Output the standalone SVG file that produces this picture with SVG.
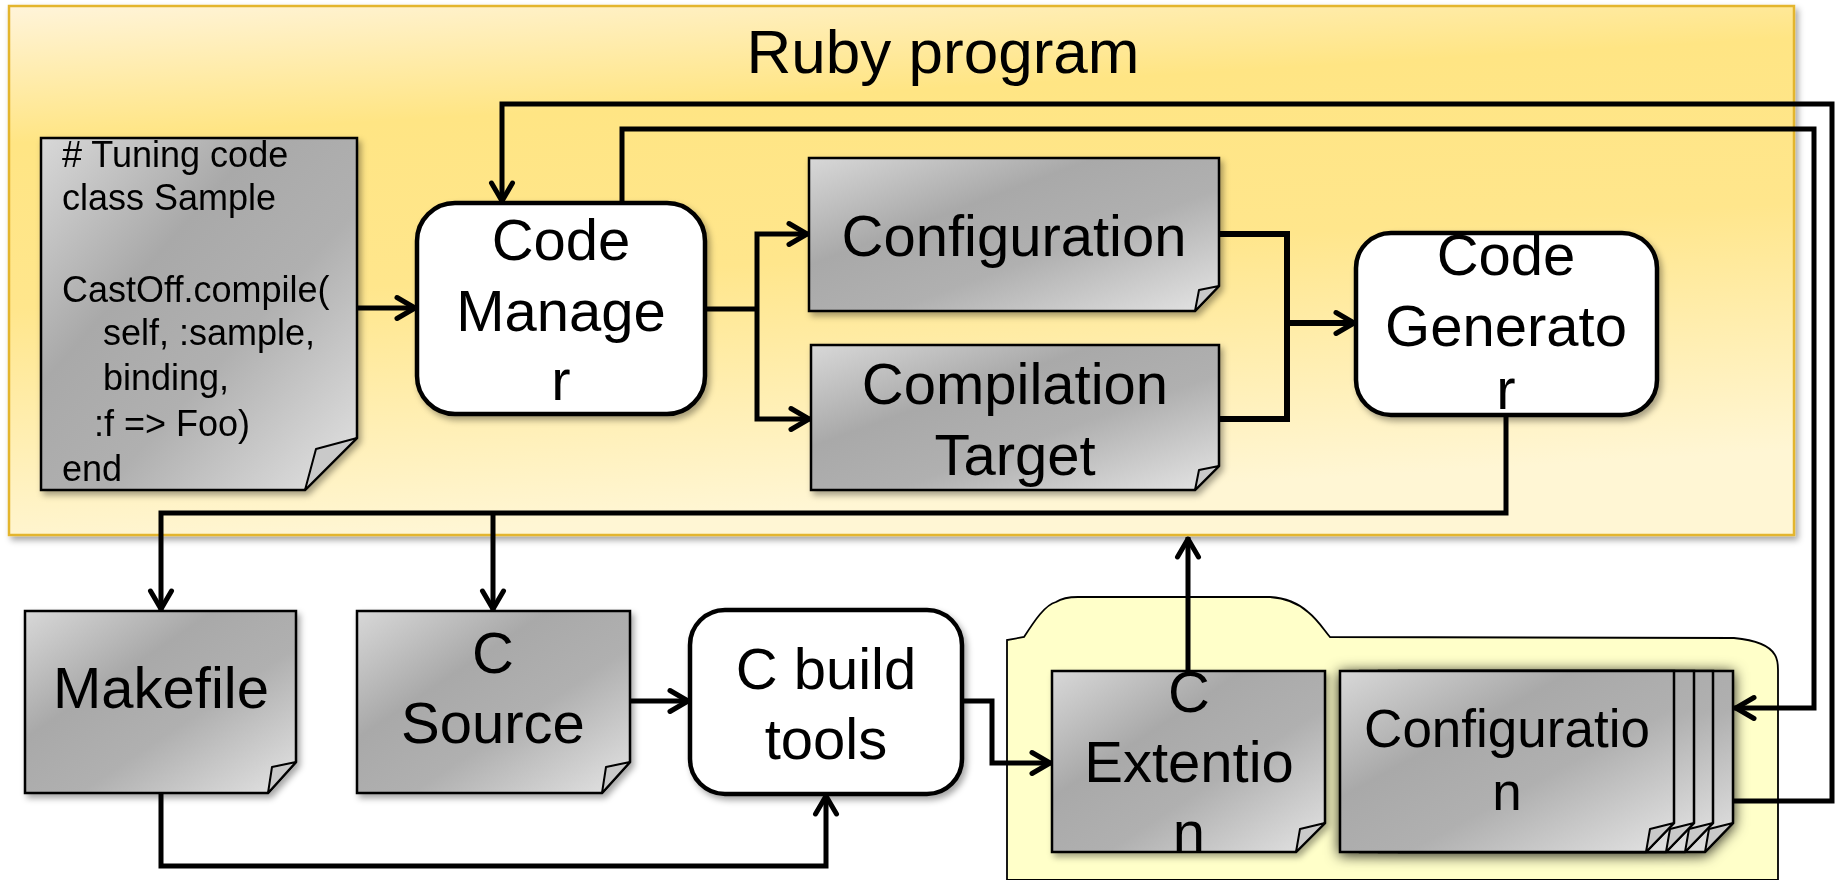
<svg xmlns="http://www.w3.org/2000/svg" width="1837" height="880" viewBox="0 0 1837 880">
<defs>
<linearGradient id="panelG" x1="0" y1="0" x2="0.2" y2="1">
<stop offset="0" stop-color="#FFF4DA"/>
<stop offset="0.25" stop-color="#FFE584"/>
<stop offset="0.55" stop-color="#FFE68C"/>
<stop offset="1" stop-color="#FFF6D4"/>
</linearGradient>
<linearGradient id="docG" x1="0" y1="0" x2="1" y2="1">
<stop offset="0" stop-color="#D8D8D8"/>
<stop offset="0.35" stop-color="#A9A9A9"/>
<stop offset="0.6" stop-color="#B0B0B0"/>
<stop offset="1" stop-color="#E4E4E4"/>
</linearGradient>
<filter id="sh" x="-10%" y="-10%" width="125%" height="125%">
<feDropShadow dx="3" dy="4" stdDeviation="3" flood-color="#000" flood-opacity="0.35"/>
</filter>
<filter id="shDark" x="-15%" y="-20%" width="130%" height="140%">
<feDropShadow dx="0" dy="2" stdDeviation="7" flood-color="#000" flood-opacity="0.85"/>
</filter>
<marker id="arr" markerUnits="userSpaceOnUse" markerWidth="28" markerHeight="28" viewBox="-22 -14 28 28" refX="2" refY="0" orient="auto">
<path d="M-18,-10.5 L0,0 L-18,10.5" fill="none" stroke="#000" stroke-width="5" stroke-linejoin="round" stroke-linecap="round"/>
</marker>
<style>
.t{font-family:"Liberation Sans",Arial,sans-serif;fill:#000;}
.big{font-size:58px;text-anchor:middle;}
.mid{font-size:53px;text-anchor:middle;}
.code{font-size:36px;}
.doc{fill:url(#docG);stroke:#000;stroke-width:2.5;}
.fold{fill:#C9C9C9;stroke:#000;stroke-width:2;stroke-linejoin:round;}
.box{fill:#fff;stroke:#000;stroke-width:4.5;}
.ln{fill:none;stroke:#000;stroke-width:5;stroke-linejoin:miter;}
.thick{stroke-width:6;}
</style>
</defs>

<g id="panel">
<rect x="9" y="6" width="1785" height="529" fill="url(#panelG)" stroke="#E3B52E" stroke-width="2.5" filter="url(#sh)"/>
<text class="t" x="943" y="73" font-size="62" text-anchor="middle">Ruby program</text>
</g>

<g id="folder">
<path d="M1007,880 V640 L1024,637 C1035,620 1045,605 1056,602 C1062,598 1070,597 1078,597 L1270,597 C1285,598 1298,603 1308,612 C1318,620 1324,630 1330,637 L1734,638 C1755,640 1770,646 1775,655 C1778,660 1778,665 1778,670 V880 Z" fill="#FFFFC9" stroke="#000" stroke-width="1.8"/>
</g>

<g id="tuning-code" filter="url(#sh)">
<path class="doc" d="M41,138 H357 V438 L305,490 H41 Z"/>
<path class="fold" d="M357,438 L316,449 L305,490 Z"/>
<text class="t code" x="62" y="167">
<tspan x="62" y="167"># Tuning code</tspan>
<tspan x="62" y="210">class Sample</tspan>
<tspan x="62" y="302">CastOff.compile(</tspan>
<tspan x="103" y="345">self, :sample,</tspan>
<tspan x="103" y="390">binding,</tspan>
<tspan x="94" y="436">:f =&gt; Foo)</tspan>
<tspan x="62" y="481">end</tspan>
</text>
</g>

<g id="code-manager" filter="url(#sh)">
<rect class="box" x="417" y="203" width="288" height="211" rx="38"/>
<text class="t big"><tspan x="561" y="260">Code</tspan><tspan x="561" y="331">Manage</tspan><tspan x="561" y="400">r</tspan></text>
</g>

<g id="configuration" filter="url(#sh)">
<path class="doc" d="M809,158 H1219 V286 L1195,311 H809 Z"/>
<path class="fold" d="M1219,286 L1199,290 L1195,311 Z"/>
<text class="t big" x="1014" y="256">Configuration</text>
</g>

<g id="compilation-target" filter="url(#sh)">
<path class="doc" d="M811,345 H1219 V466 L1195,490 H811 Z"/>
<path class="fold" d="M1219,466 L1199,470 L1195,490 Z"/>
<text class="t big"><tspan x="1015" y="404">Compilation</tspan><tspan x="1015" y="475">Target</tspan></text>
</g>

<g id="code-generator" filter="url(#sh)">
<rect class="box" x="1356" y="233" width="301" height="182" rx="35"/>
<text class="t big"><tspan x="1506" y="275">Code</tspan><tspan x="1506" y="346">Generato</tspan><tspan x="1506" y="409">r</tspan></text>
</g>

<g id="makefile" filter="url(#sh)">
<path class="doc" d="M25,611 H296 V762 L268,793 H25 Z"/>
<path class="fold" d="M296,762 L272,767 L268,793 Z"/>
<text class="t big" x="161" y="708">Makefile</text>
</g>

<g id="c-source" filter="url(#sh)">
<path class="doc" d="M357,611 H630 V762 L602,793 H357 Z"/>
<path class="fold" d="M630,762 L606,767 L602,793 Z"/>
<text class="t big"><tspan x="493" y="673">C</tspan><tspan x="493" y="743">Source</tspan></text>
</g>

<g id="c-build-tools" filter="url(#sh)">
<rect class="box" x="690" y="610" width="272" height="184" rx="35"/>
<text class="t big"><tspan x="826" y="689">C build</tspan><tspan x="826" y="759">tools</tspan></text>
</g>

<g id="c-extention" filter="url(#sh)">
<path class="doc" d="M1052,671 H1325 V823 L1296,852 H1052 Z"/>
<path class="fold" d="M1325,823 L1300,829 L1296,852 Z"/>
<text class="t big"><tspan x="1189" y="712">C</tspan><tspan x="1189" y="782">Extentio</tspan><tspan x="1189" y="852">n</tspan></text>
</g>

<g id="configuration-stack">
<g filter="url(#shDark)">
<path class="doc" d="M1399,671 H1733 V823 L1705,852 H1399 Z"/>
<path class="fold" d="M1733,823 L1709,829 L1705,852 Z"/>
<path class="doc" d="M1379,671 H1713 V823 L1685,852 H1379 Z"/>
<path class="fold" d="M1713,823 L1689,829 L1685,852 Z"/>
<path class="doc" d="M1360,671 H1694 V823 L1666,852 H1360 Z"/>
<path class="fold" d="M1694,823 L1670,829 L1666,852 Z"/>
<path class="doc" d="M1340,671 H1674 V823 L1646,852 H1340 Z"/>
<path class="fold" d="M1674,823 L1650,829 L1646,852 Z"/>
</g>
<text class="t mid"><tspan x="1507" y="747">Configuratio</tspan><tspan x="1507" y="810">n</tspan></text>
</g>

<g id="connectors">
<path class="ln" d="M357,308 H417" marker-end="url(#arr)"/>
<path class="ln" d="M705,309 H757"/>
<path class="ln" d="M757,309 V234 H809" marker-end="url(#arr)"/>
<path class="ln" d="M757,309 V419 H811" marker-end="url(#arr)"/>
<path class="ln thick" d="M1219,234 H1287 V419 H1219"/>
<path class="ln thick" d="M1287,323 H1356" marker-end="url(#arr)"/>
<path class="ln" d="M1506,414 V513 H161 V611" marker-end="url(#arr)"/>
<path class="ln" d="M493,513 V611" marker-end="url(#arr)"/>
<path class="ln" d="M161,793 V866 H826 V794" marker-end="url(#arr)"/>
<path class="ln" d="M630,701 H690" marker-end="url(#arr)"/>
<path class="ln" d="M962,701 H992 V763 H1052" marker-end="url(#arr)"/>
<path class="ln" d="M1188,671 V537" marker-end="url(#arr)"/>
<path class="ln" d="M622,203 V129 H1814 V708 H1734" marker-end="url(#arr)"/>
<path class="ln" d="M1734,801 H1832 V104 H502 V203" marker-end="url(#arr)"/>
</g>
</svg>
